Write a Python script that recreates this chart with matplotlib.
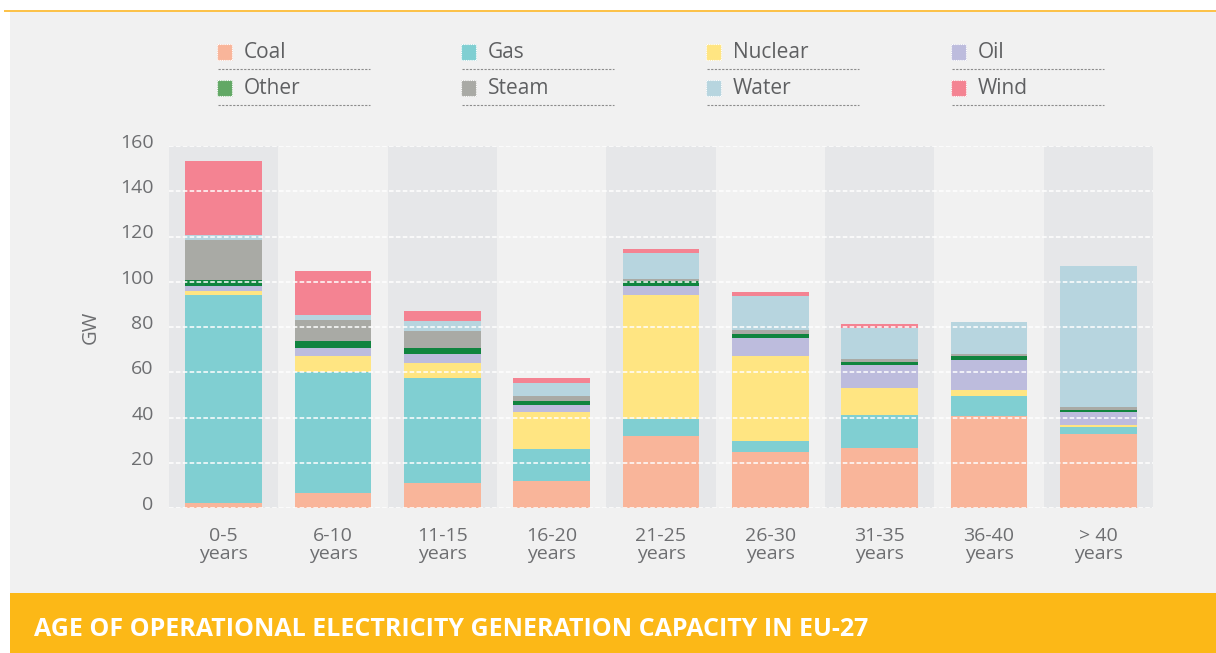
import matplotlib
matplotlib.use("Agg")
import matplotlib.pyplot as plt
import matplotlib.transforms as mtransforms
from matplotlib.patches import Rectangle
from matplotlib.lines import Line2D
import numpy as np

plt.rcParams['font.family'] = ['Open Sans', 'DejaVu Sans']

categories = ['0-5\nyears', '6-10\nyears', '11-15\nyears', '16-20\nyears', '21-25\nyears',
              '26-30\nyears', '31-35\nyears', '36-40\nyears', '> 40\nyears']
series_names = ['Coal', 'Gas', 'Nuclear', 'Oil', 'Other', 'Steam', 'Water', 'Wind']
coal = [2.4, 6.8, 10.9, 12.1, 31.9, 24.9, 26.6, 40.8, 32.8]
gas = [91.8, 53.4, 46.7, 14.1, 7.5, 4.9, 14.6, 8.8, 3.1]
nuclear = [1.8, 7.1, 6.6, 16.3, 54.7, 37.5, 11.9, 2.6, 0.9]
oil = [2.2, 3.5, 4.0, 3.1, 4.0, 7.9, 10.2, 13.2, 5.7]
other = [2.6, 3.1, 2.6, 1.8, 2.2, 1.8, 1.3, 1.8, 0.9]
steam = [17.7, 9.3, 7.5, 2.2, 0.9, 1.8, 1.3, 0.9, 1.3]
water = [2.2, 2.2, 4.4, 5.7, 11.5, 15.0, 13.7, 14.1, 62.3]
wind = [32.7, 19.4, 4.4, 2.2, 1.8, 1.8, 1.8, 0.0, 0.0]
yticks = [0, 20, 40, 60, 80, 100, 120, 140, 160]
title = 'AGE OF OPERATIONAL ELECTRICITY GENERATION CAPACITY IN EU-27'
ylabel = 'GW'

series = [coal, gas, nuclear, oil, other, steam, water, wind]
colors = ['#f9b59a', '#80cfd2', '#ffe582', '#bdbcdd', '#10843f', '#a9aaa5', '#b7d5df', '#f48392']
legend_colors = ['#f9b59a', '#80cfd2', '#ffe582', '#bdbcdd', '#62a865', '#a9aaa5', '#b7d5df', '#f48392']

W, H = 1216, 653
fig = plt.figure(figsize=(W / 100, H / 100), dpi=100, facecolor='white')

def fx(px):
    return px / W

def fy(py):
    return 1 - py / H

# background panels
fig.patches.append(Rectangle((fx(10), fy(593)), fx(W - 10), 593 / H - 11 / H,
                             transform=fig.transFigure, facecolor='#f1f1f1', edgecolor='none', zorder=-10))
fig.patches.append(Rectangle((fx(10), 0), fx(W - 10), (H - 593) / H,
                             transform=fig.transFigure, facecolor='#fcb817', edgecolor='none', zorder=-9))
fig.patches.append(Rectangle((fx(4), fy(12)), fx(W - 4), 2.2 / H,
                             transform=fig.transFigure, facecolor='#fcc24a', edgecolor='none', zorder=-9))

fig.text(fx(34), fy(630), title, color='white', fontsize=18, fontweight='bold',
         va='center', ha='left')

ax = fig.add_axes([fx(169), fy(508), fx(1153 - 169), (508 - 146) / H])
ax.set_facecolor('none')
x = np.arange(len(categories))
for i in x:
    if i % 2 == 0:
        ax.axvspan(i - 0.5, i + 0.5, color='#e6e7e9', zorder=0, lw=0)

bottom = np.zeros(len(categories))
for vals, col in zip(series, colors):
    ax.bar(x, vals, width=0.7, bottom=bottom, color=col, zorder=1, lw=0)
    bottom += np.array(vals)

ax.set_xlim(-0.5, len(categories) - 0.5)
ax.set_ylim(0, 160)
ax.set_yticks(yticks)
ax.set_xticks(x)
ax.set_xticklabels(categories)
for lab in ax.get_xticklabels():
    lab.set_linespacing(1.0)
ax.tick_params(axis='both', length=0, colors='#6d6e71', labelsize=14)
ax.tick_params(axis='y', pad=11)
ax.tick_params(axis='x', pad=14)
offset = mtransforms.ScaledTranslation(0, 5 / 100, fig.dpi_scale_trans)
for lab in ax.get_yticklabels():
    lab.set_transform(lab.get_transform() + offset)
for s in ax.spines.values():
    s.set_visible(False)
ax.yaxis.grid(True, color='white', linestyle=(0, (3, 1.5)), linewidth=1.1, zorder=3)
ax.set_axisbelow(False)
ax.set_ylabel(ylabel, color='#6d6e71', fontsize=14.5, labelpad=14)

# legend
col_x = [217, 461, 706, 951]
row_y = [53, 89]
for k, (name, lc) in enumerate(zip(series_names, legend_colors)):
    r, c = divmod(k, 4)
    px, py = col_x[c], row_y[r]
    fig.patches.append(Rectangle((fx(px), fy(py + 7)), 15 / W, 16 / H, transform=fig.transFigure,
                                 facecolor=lc, edgecolor='white', linestyle=(0, (1, 1)), linewidth=0.8))
    fig.text(fx(px + 27), fy(py), name, color='#5f6062', fontsize=15, va='center', ha='left')
    fig.lines.append(Line2D([fx(px + 1), fx(px + 153)], [fy(py + 16), fy(py + 16)],
                            transform=fig.transFigure, color='#8c8c8c',
                            linestyle=(0, (2, 1.3)), linewidth=0.8))

fig.savefig('out.png', dpi=100, facecolor=fig.get_facecolor())
